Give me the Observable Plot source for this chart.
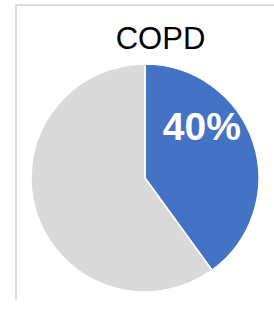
<!DOCTYPE html>
<html>
<head>
<meta charset="utf-8">
<script src="https://cdn.jsdelivr.net/npm/d3@7"></script>
<script src="https://cdn.jsdelivr.net/npm/@observablehq/plot@0.6"></script>
<style>
  html, body { margin: 0; padding: 0; background: #fff; }
  #wrap { position: relative; width: 274px; height: 309px; overflow: hidden; }
  #frame { position: absolute; left: 15px; top: 4px; width: 270px; height: 296px;
           border-top: 2px solid #dcdcdc; border-left: 2px solid #dcdcdc; box-sizing: border-box; }
  #chart { position: absolute; left: 0; top: 0; }
</style>
</head>
<body>
<div id="wrap"><div id="frame"></div><div id="chart"></div></div>
<script>
const title = "COPD";
const categories = ["COPD", "Other"];
const values = [40, 60];
const colors = ["#4472C4", "#D9D9D9"];
const labels = ["40%", ""];

const data = categories.map((c, i) => ({category: c, value: values[i], label: labels[i]}));
const pie = d3.pie().sort(null).value(d => d.value)(data);

const W = 274, H = 309;
const cx = 145, cy = 178, R = 114;

function pieMark(index, scales, values, dimensions) {
  const g = d3.create("svg:g");
  const x0 = scales.x(0), y0 = scales.y(0);
  const r = Math.abs(scales.x(1) - scales.x(0));
  const arc = d3.arc().innerRadius(0).outerRadius(r);
  g.selectAll("path").data(pie).join("path")
    .attr("transform", `translate(${x0},${y0})`)
    .attr("d", arc)
    .attr("fill", d => scales.color(d.data.category))
    .attr("stroke", "#fff")
    .attr("stroke-width", 1.5)
    .attr("stroke-linejoin", "round");
  return g.node();
}

// label position from slice mid-angle, in unit coordinates
const labelData = pie.filter(d => d.data.label).map(d => {
  const a = (d.startAngle + d.endAngle) / 2;
  return {label: d.data.label, x: 0.52 * Math.sin(a), y: 0.6 * Math.cos(a) + 0.26};
});

const chart = Plot.plot({
  width: W, height: H,
  margin: 0,
  x: {domain: [-(cx) / R, (W - cx) / R], range: [0, W], axis: null},
  y: {domain: [-(H - cy) / R, cy / R], range: [H, 0], axis: null},
  color: {domain: categories, range: colors},
  style: {fontFamily: "Liberation Sans, Arial, sans-serif", background: "transparent"},
  marks: [
    pieMark,
    Plot.text([title], {x: () => 15 / R, y: () => (cy - 48) / R, text: d => d, fontSize: 31, fill: "#000", textAnchor: "middle", lineAnchor: "bottom"}),
    Plot.text(labelData, {x: "x", y: "y", text: "label", fontSize: 39, fontWeight: "bold", fill: "#fff", textAnchor: "middle", lineAnchor: "middle"})
  ]
});
document.getElementById("chart").appendChild(chart);
</script>
</body>
</html>
